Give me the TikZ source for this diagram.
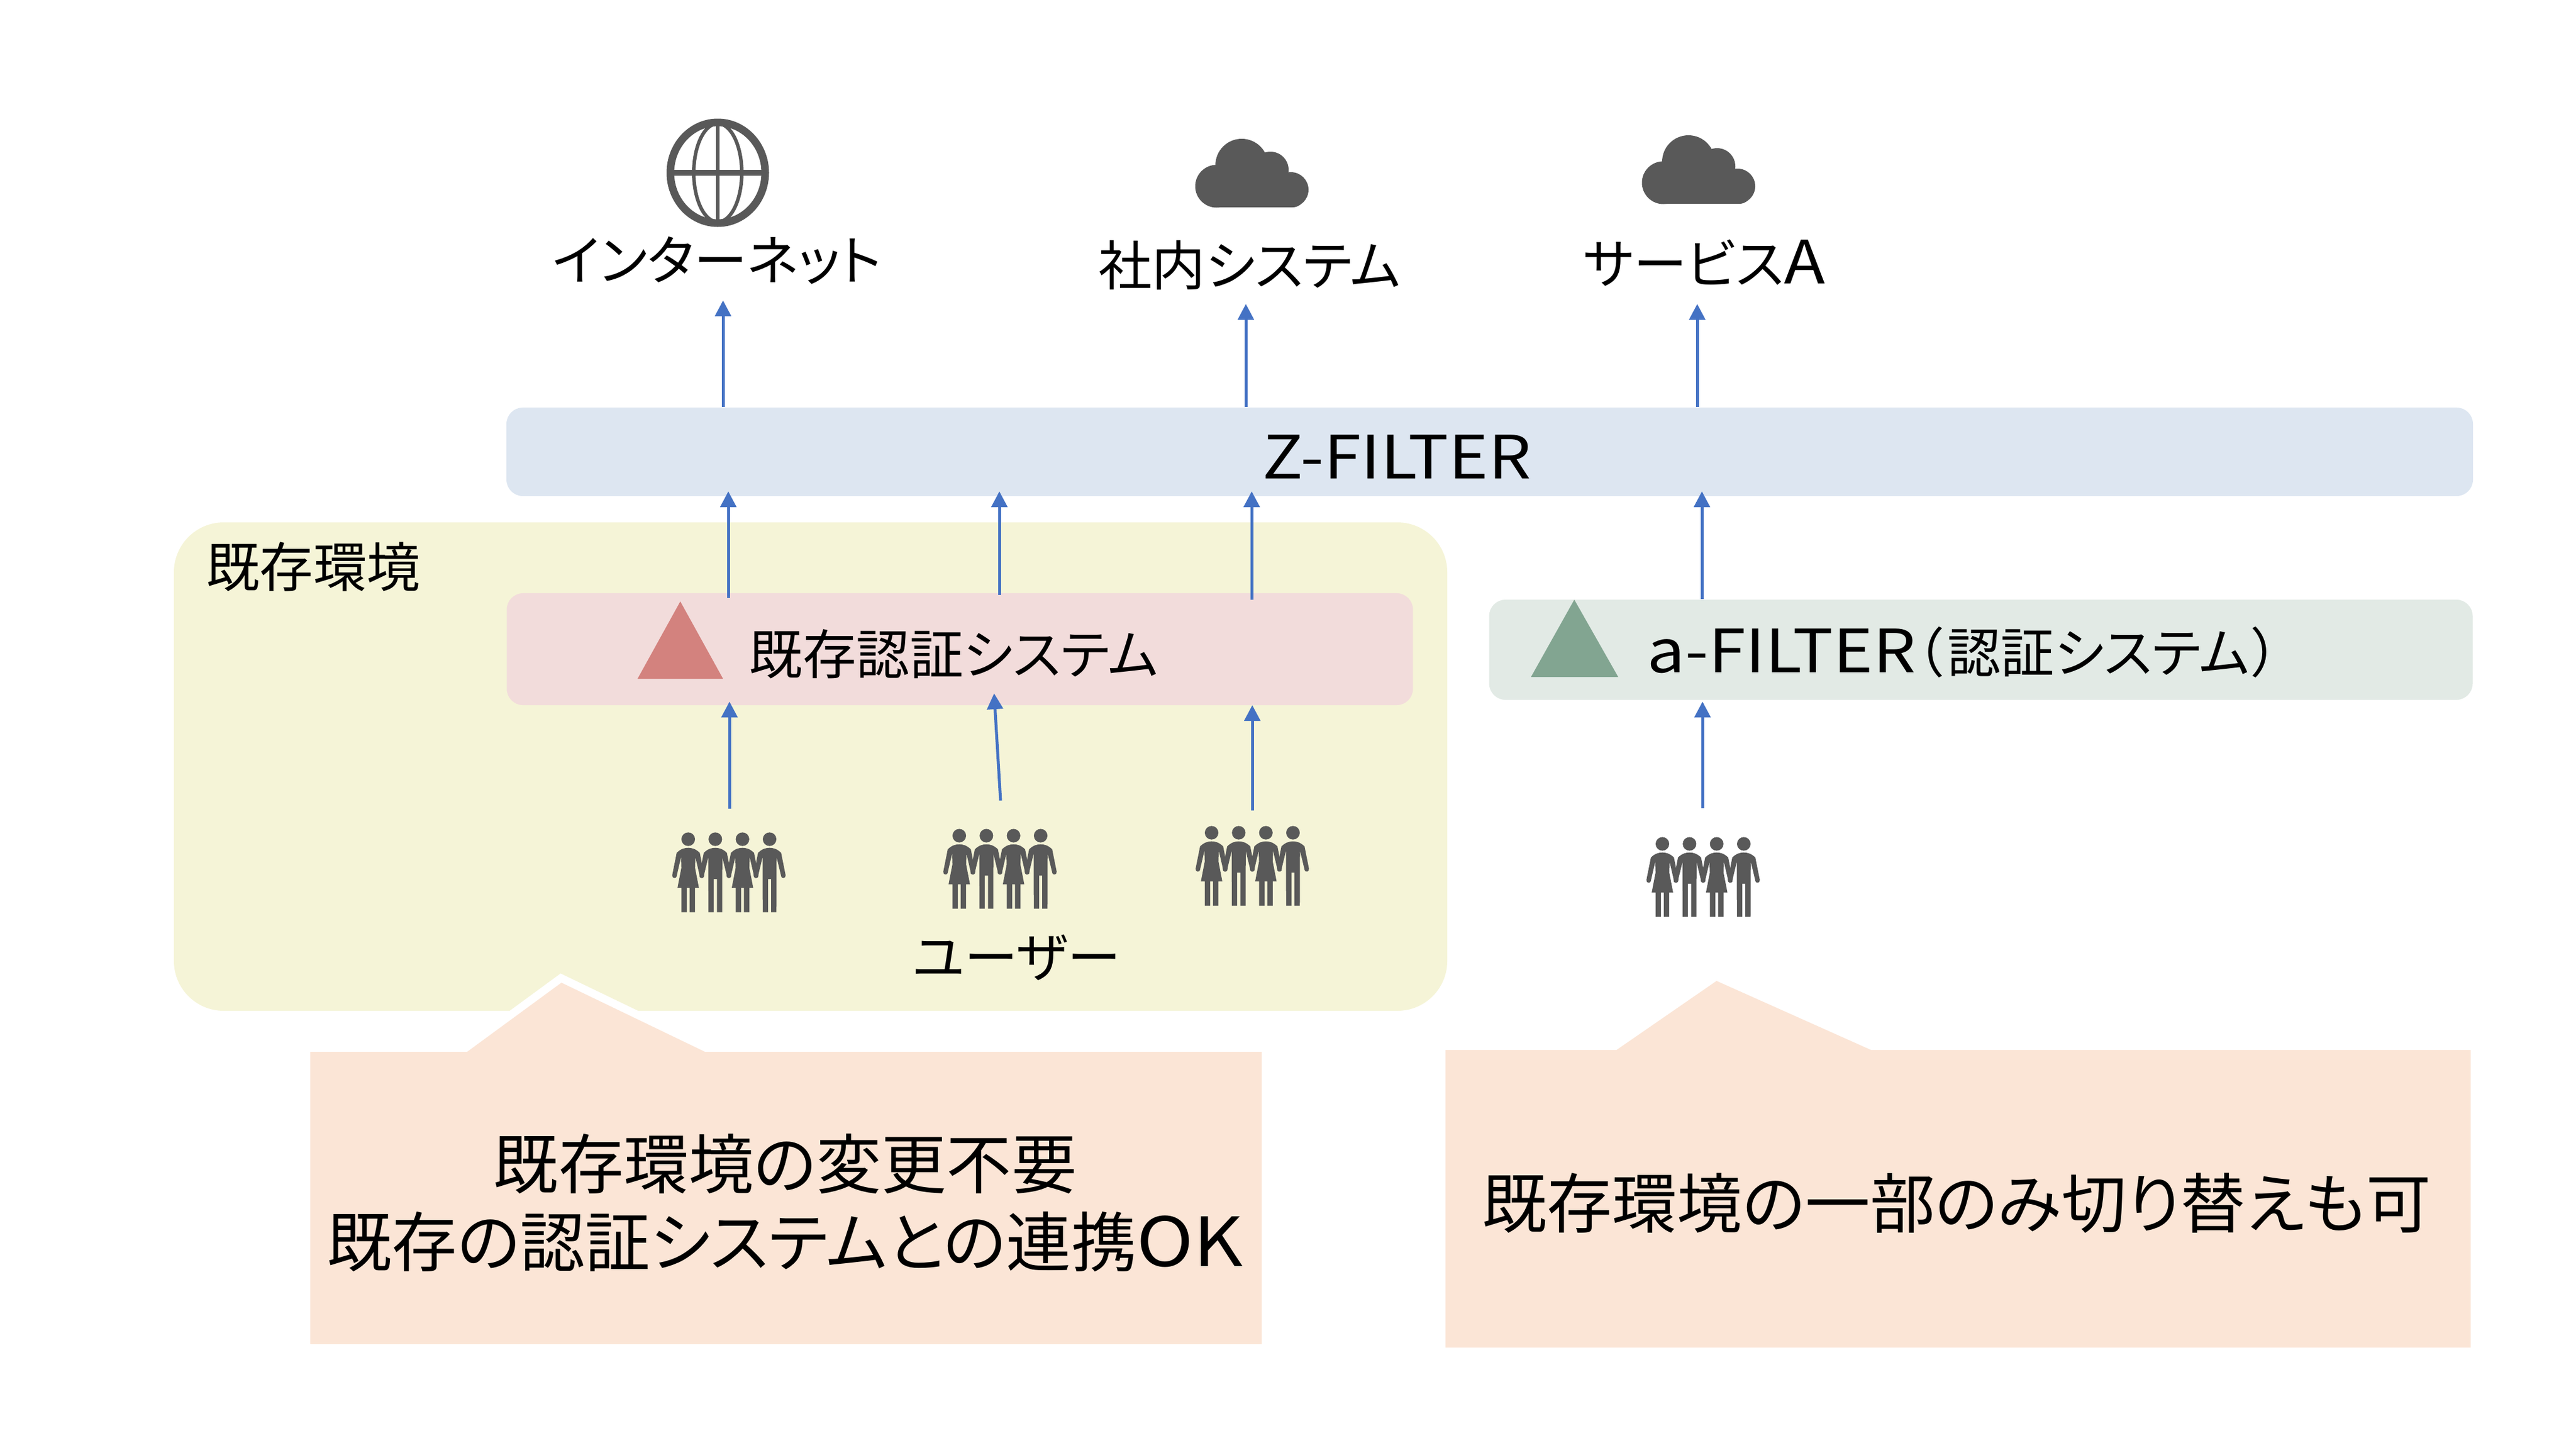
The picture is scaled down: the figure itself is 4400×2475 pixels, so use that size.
\documentclass[tikz,border=0pt]{standalone}
\usepackage[HTML]{xcolor}
\usepackage{fontspec}
\setmainfont{Noto Sans CJK JP}[RawFeature=+palt]
\newfontfamily\latfont[FakeStretch=1.13]{Noto Sans CJK JP}
\usepackage{tikz}
\usetikzlibrary{arrows.meta}

\definecolor{iconcol}{HTML}{595959}
\definecolor{flowcol}{HTML}{4472C4}
\definecolor{envcol}{HTML}{F5F4D7}
\definecolor{zcol}{HTML}{DDE6F1}
\definecolor{authcol}{HTML}{F2DCDB}
\definecolor{acol}{HTML}{E2EAE5}
\definecolor{notecol}{HTML}{FBE5D6}
\definecolor{redtri}{HTML}{D3827E}
\definecolor{greentri}{HTML}{82A591}

\newcommand{\biglat}[1]{{\latfont\fontsize{29}{30}\selectfont #1}}

\tikzset{
  flow/.style={draw=flowcol,line width=0.05cm,-{Triangle[length=0.27cm,width=0.27cm]}},
  band/.style={rounded corners=0.28cm,inner sep=0pt},
  lab/.style={inner sep=0pt,font=\fontsize{26}{30}\selectfont},
  notelab/.style={inner sep=0pt,align=center,font=\fontsize{31.6}{38}\selectfont},
  note/.style={fill=notecol,preaction={draw=white,line width=0.27cm}},
  womanfig/.pic={
    \fill[iconcol] (0,0) circle (11.6);
    \fill[iconcol] (0,14.7) .. controls (6,14.7) and (13,16.5) .. (19.7,23.3) -- (27.3,61.3)
      .. controls (28,67) and (21,68) .. (20,64) -- (12.3,30.7) -- (11.7,49) -- (18.3,83)
      -- (11.7,83) -- (11.7,124.7) -- (2.3,124.7) -- (2.3,83) -- (-2.3,83) -- (-2.3,124.7)
      -- (-11.7,124.7) -- (-11.7,83) -- (-18.3,83) -- (-11.7,49) -- (-12.3,30.7) -- (-20,64)
      .. controls (-21,68) and (-28,67) .. (-27.3,61.3) -- (-19.7,23.3)
      .. controls (-13,16.5) and (-6,14.7) .. (0,14.7) -- cycle;
  },
  manfig/.pic={
    \fill[iconcol] (0,0) circle (11.6);
    \fill[iconcol] (0,14.7) .. controls (6,14.7) and (13,16.5) .. (19.7,23.3) -- (27.3,61.3)
      .. controls (28,67) and (21,68) .. (20,64) -- (12,30.7) -- (11.7,124.7) -- (2.7,124.7)
      -- (2.7,68) -- (-2.7,68) -- (-2.7,124.7) -- (-11.7,124.7) -- (-12,30.7) -- (-20,64)
      .. controls (-21,68) and (-28,67) .. (-27.3,61.3) -- (-19.7,23.3)
      .. controls (-13,16.5) and (-6,14.7) .. (0,14.7) -- cycle;
  },
  crowd/.pic={
    \foreach \a in {-69.5,23.2}{\pic at (\a,0) {womanfig};}
    \foreach \a in {-23.2,69.5}{\pic at (\a,0) {manfig};}
  },
  cloudicon/.pic={
    \fill[iconcol] (-60,22) circle (36.5);
    \fill[iconcol] (-17,-14) circle (45);
    \fill[iconcol] (32,-6) circle (31);
    \fill[iconcol] (67,28) circle (30);
    \fill[iconcol,rounded corners=0.2cm] (-75,10) rectangle (90,58);
  },
}

\begin{document}
\begin{tikzpicture}[x=0.01cm,y=-0.01cm]
\useasboundingbox (0,0) rectangle (4400,2475);

% --- bands ---
\fill[envcol,rounded corners=0.85cm] (297,892) rectangle (2472,1726);
\node[band,fill=zcol,minimum width=33.57cm,minimum height=1.51cm] (zfilter) at (2544.5,771.5) {};
\node[band,fill=authcol,minimum width=15.47cm,minimum height=1.91cm] (oldauth) at (1639.5,1108.5) {};
\node[band,fill=acol,minimum width=16.79cm,minimum height=1.71cm] (afilter) at (3383.5,1109.5) {};

% --- triangles ---
\fill[redtri] (1162,1027) -- (1235,1159) -- (1089,1159) -- cycle;
\fill[greentri] (2689,1024) -- (2764,1156) -- (2615,1156) -- cycle;

% --- globe ---
\begin{scope}[shift={(1226,295)}]
\draw[iconcol,line width=0.13cm] (0,0) ellipse [x radius=81,y radius=86];
\draw[iconcol,line width=0.06cm] (0,0) ellipse [x radius=41,y radius=84];
\draw[iconcol,line width=0.06cm] (0,-84) -- (0,84);
\draw[iconcol,line width=0.1cm] (-84,0) -- (84,0);
\end{scope}

% --- clouds and people ---
\pic at (2138,296) {cloudicon};
\pic at (2901,290) {cloudicon};
\pic at (1245,1433) {crowd};
\pic at (1708,1427) {crowd};
\pic at (2139,1422) {crowd};
\pic at (2909,1441) {crowd};

% --- labels ---
\node[lab] (inetlab) at (1225,445) {インターネット};
\node[lab] (intralab) at (2134,453) {社内システム};
\node[lab] (svclab) at (2911,449) {サービス\biglat{A}};
\node[lab] (zlab) at (2386,780) {\biglat{Z-FILTER}};
\node[lab] (envlab) at (535,968) {既存環境};
\node[lab] (oldlab) at (1629,1117) {既存認証システム};
\node[lab] (alab) at (3353,1114) {\biglat{a-FILTER}（\hspace{0.08cm}認証システム\hspace{0.05cm}）};
\node[lab] (userlab) at (1736,1635) {ユーザー};

% --- arrows ---
\foreach \nm/\xa/\ya in {inet/1235/513,intra/2128/519,svc/2899/519}{
  \coordinate (\nm tip) at (\xa,\ya);
  \draw[flow] (zfilter.north -| \nm tip) -- (\nm tip);
}
\foreach \nm/\xa/\yb in {oldl/1244/1021,oldm/1707/1016,oldr/2138/1024}{
  \coordinate (\nm tip) at (\xa,839);
  \coordinate (\nm foot) at (\xa,\yb);
  \draw[flow] (\nm foot) -- (\nm tip);
}
\coordinate (atip) at (2907,839);
\draw[flow] (afilter.north -| atip) -- (atip);

\coordinate (ul) at (1246,1381);
\coordinate (ult) at (1246,1198);
\draw[flow] (ul) -- (ult);
\coordinate (um) at (1709,1367);
\coordinate (umt) at (1698,1184);
\draw[flow] (um) -- (umt);
\coordinate (ur) at (2139,1384);
\coordinate (urt) at (2139,1204);
\draw[flow] (ur) -- (urt);
\coordinate (ua) at (2908,1380);
\coordinate (uat) at (2908,1198);
\draw[flow] (ua) -- (uat);

% --- notes ---
\path[note] (530,1796) -- (798,1796) -- (959,1678) -- (1204,1796) -- (2155,1796) -- (2155,2295) -- (530,2295) -- cycle;
\path[note] (2469,1793) -- (2761,1793) -- (2932,1675) -- (3196,1793) -- (4220,1793) -- (4220,2301) -- (2469,2301) -- cycle;
\node[notelab] (notel) at (1341,2054) {既存環境の変更不要\\既存の認証システムとの連携{\latfont\fontsize{33}{38}\selectfont OK}};
\node[notelab] (noter) at (3342,2054) {既存環境の一部のみ切り替えも可};
\end{tikzpicture}
\end{document}
